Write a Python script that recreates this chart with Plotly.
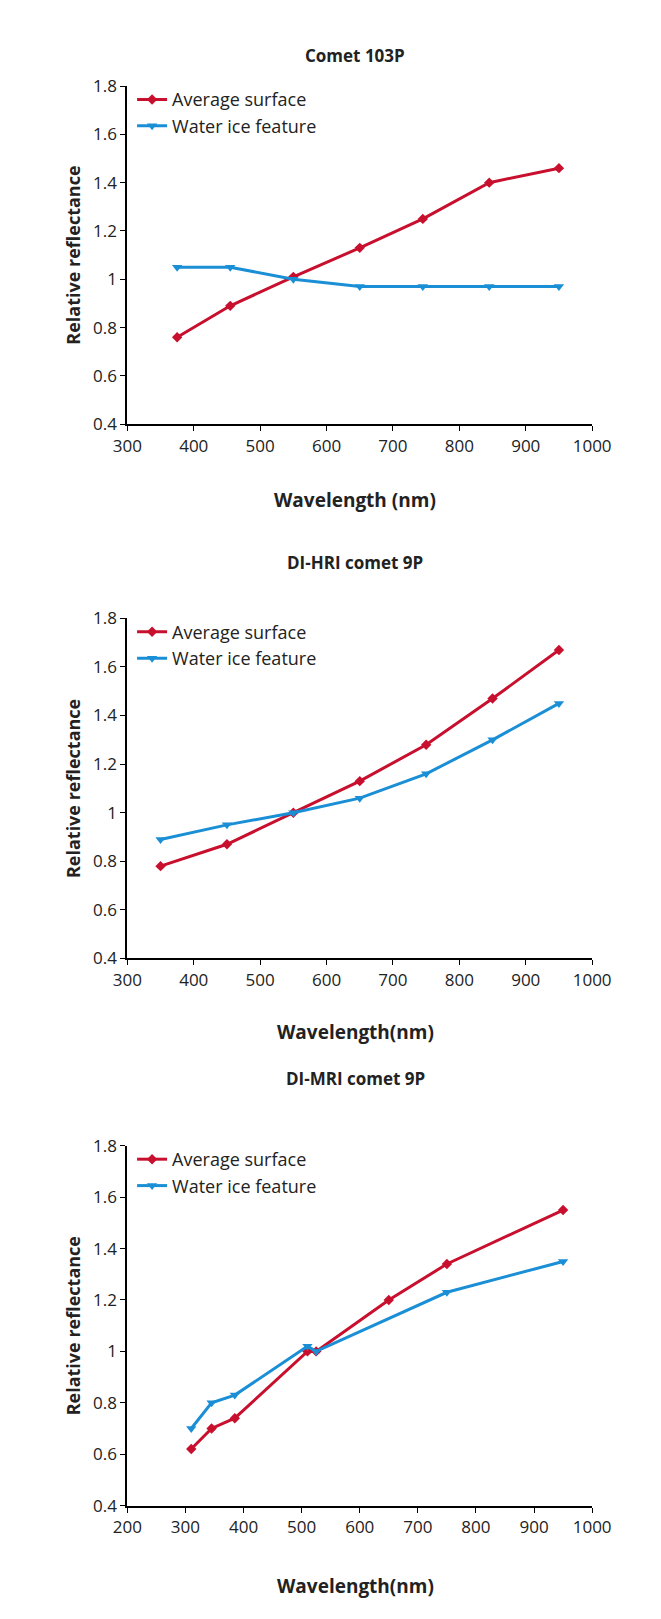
import plotly.graph_objects as go

H = 1619.0

titles = ["Comet 103P", "DI-HRI comet 9P", "DI-MRI comet 9P"]
xtitles = ["Wavelength (nm)", "Wavelength(nm)", "Wavelength(nm)"]

wl1_avg = [375, 455, 550, 650, 745, 845, 950]
avg1 = [0.76, 0.89, 1.01, 1.13, 1.25, 1.40, 1.46]
wl1_ice = [375, 455, 550, 650, 745, 845, 950]
ice1 = [1.05, 1.05, 1.00, 0.97, 0.97, 0.97, 0.97]

wl2 = [350, 450, 550, 650, 750, 850, 950]
avg2 = [0.78, 0.87, 1.00, 1.13, 1.28, 1.47, 1.67]
ice2 = [0.89, 0.95, 1.00, 1.06, 1.16, 1.30, 1.45]

wl3_avg = [310, 345, 385, 510, 525, 650, 750, 950]
avg3 = [0.62, 0.70, 0.74, 1.00, 1.00, 1.20, 1.34, 1.55]
wl3_ice = [310, 345, 385, 510, 525, 750, 950]
ice3 = [0.70, 0.80, 0.83, 1.02, 1.00, 1.23, 1.35]

panels = [
    (wl1_avg, avg1, wl1_ice, ice1, [300, 1000]),
    (wl2, avg2, wl2, ice2, [300, 1000]),
    (wl3_avg, avg3, wl3_ice, ice3, [200, 1000]),
]

# plot areas in pixels (top, bottom)
ydom_px = [(67, 410), (607, 952), (1142, 1507)]
title_px = [22, 550, 1087]
xtitle_px = [472, 1027, 1604]

RED = "#c8102e"
BLUE = "#1a8fd6"
font = "Open Sans"

fig = go.Figure()
layout = dict(width=661, height=1619, margin=dict(l=0, r=0, t=0, b=0),
              plot_bgcolor="white", paper_bgcolor="white",
              font=dict(family=font, size=16, color="#222"))
annotations = []

for i, (xa, ya, xi, yi, xr) in enumerate(panels):
    n = "" if i == 0 else str(i + 1)
    leg = "legend" + n
    fig.add_trace(go.Scatter(x=xa, y=ya, mode="lines+markers", name="Average surface",
                             line=dict(color=RED, width=3),
                             marker=dict(symbol="diamond", size=8, color=RED),
                             xaxis="x" + n, yaxis="y" + n, legend=leg))
    fig.add_trace(go.Scatter(x=xi, y=yi, mode="lines+markers", name="Water ice feature",
                             line=dict(color=BLUE, width=3),
                             marker=dict(symbol="triangle-down", size=9, color=BLUE),
                             xaxis="x" + n, yaxis="y" + n, legend=leg))
    top, bot = ydom_px[i]
    dom = [1 - bot / H, 1 - top / H]
    axstyle = dict(showline=True, linecolor="black", linewidth=2, ticks="outside",
                   ticklen=5, tickcolor="black", showgrid=False, zeroline=False,
                   tickfont=dict(size=17, color="#222"))
    layout["xaxis" + n] = dict(domain=[110 / 661, 600 / 661], range=xr, dtick=100,
                               anchor="y" + n, **axstyle)
    layout["yaxis" + n] = dict(domain=dom, range=[0.4, 1.8], dtick=0.2,
                               anchor="x" + n,
                               title=dict(text="<b>Relative reflectance</b>", font=dict(size=18),
                                          standoff=8), **axstyle)
    layout[leg] = dict(x=115 / 661, y=dom[1] + 0.003, xanchor="left", yanchor="top",
                       bgcolor="rgba(0,0,0,0)", font=dict(size=18), tracegroupgap=0)
    annotations.append(dict(text="<b>%s</b>" % titles[i], x=0.53, y=1 - title_px[i] / H,
                            xref="paper", yref="paper", showarrow=False, font=dict(size=17)))
    annotations.append(dict(text="<b>%s</b>" % xtitles[i], x=0.53, y=1 - xtitle_px[i] / H,
                            xref="paper", yref="paper", showarrow=False, font=dict(size=19)))

layout["annotations"] = annotations
fig.update_layout(**layout)
fig.write_html("out.html")
